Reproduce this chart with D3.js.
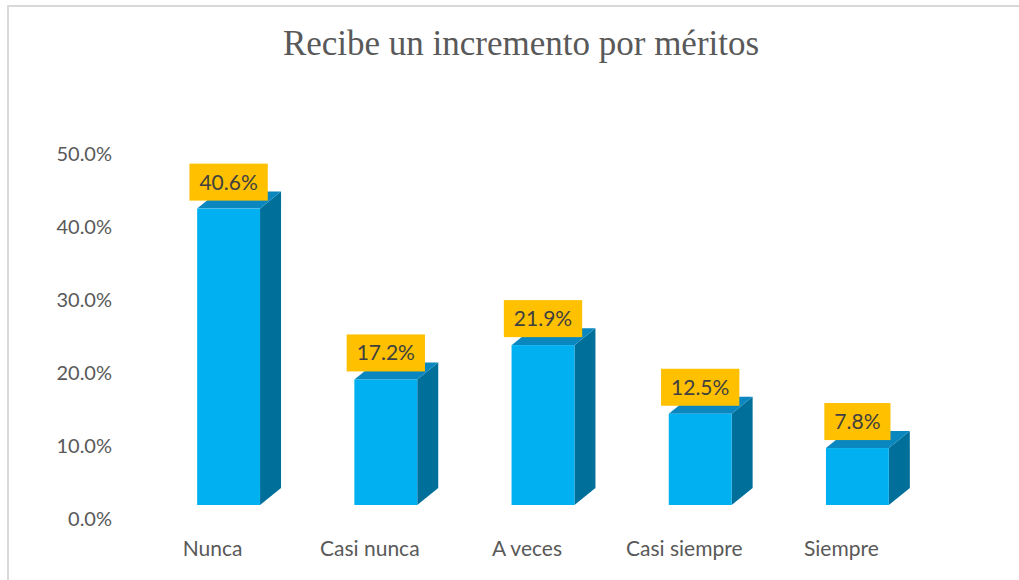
<!doctype html>
<html>
<head>
<meta charset="utf-8">
<title>Recibe un incremento por méritos</title>
<style>
  body { margin:0; background:#fff; }
  svg { display:block; }
  .title { font-family:"Liberation Serif","Times New Roman",serif; font-size:35px; fill:#595959; }
  .axis text { font-family:Lato,"Open Sans",sans-serif; font-size:20px; fill:#595959; }
  .xaxis text { font-size:21px; }
  .lbl { font-family:Lato,"Open Sans",sans-serif; font-size:21px; fill:#404040; }
</style>
<script src="https://cdn.jsdelivr.net/npm/d3@7"></script>
</head>
<body>
<svg id="chart" width="1019" height="580"></svg>
<script>
// datos
var categories = ["Nunca", "Casi nunca", "A veces", "Casi siempre", "Siempre"]
var values = [40.6, 17.2, 21.9, 12.5, 7.8]
var yTicks = [0, 10, 20, 30, 40, 50]

var svg = d3.select("#chart")

// marco del grafico
svg.append("path")
  .attr("d", "M8,580 L8,6 L1019,6")
  .style("fill", "none").style("stroke", "#d9d9d9").style("stroke-width", 2)

svg.append("text").attr("class", "title")
  .attr("x", 521).attr("y", 55)
  .attr("text-anchor", "middle")
  .text("Recibe un incremento por méritos")

// escalas
var x = d3.scaleBand().domain(categories).range([150, 936]).paddingInner(0.6).paddingOuter(0.3)
var yAxisScale = d3.scaleLinear().domain([0, 50]).range([518, 153])
var y = d3.scaleLinear().domain([0, 50]).range([505, 140])   // cara frontal
var dx = 21, dy = 17

// eje y
var gy = svg.append("g").attr("class", "axis")
  .attr("transform", "translate(112,0)")
  .call(d3.axisLeft(yAxisScale).tickValues(yTicks).tickSize(0).tickPadding(0)
    .tickFormat(function(d) { return d.toFixed(1) + "%" }))
gy.select(".domain").remove()
gy.selectAll("text").attr("dy", "0.35em")

// eje x
var gx = svg.append("g").attr("class", "axis xaxis")
  .attr("transform", "translate(-16,541)")
  .call(d3.axisBottom(x).tickSize(0).tickPadding(0))
gx.select(".domain").remove()
gx.selectAll("text").attr("dy", "0.35em").attr("y", 8)

// barras 3D
var bars = svg.selectAll(".bar").data(values).enter().append("g").attr("class", "bar")

bars.append("path")   // lado
  .attr("d", function(d, i) {
    var x1 = x(categories[i]) + x.bandwidth()
    return "M" + x1 + "," + y(d) + " L" + (x1 + dx) + "," + (y(d) - dy) +
      " L" + (x1 + dx) + "," + (y(0) - dy) + " L" + x1 + "," + y(0) + "Z"
  })
  .style("fill", "#006f9a")

bars.append("path")   // tapa
  .attr("d", function(d, i) {
    var x0 = x(categories[i]), x1 = x0 + x.bandwidth()
    return "M" + x0 + "," + y(d) + " L" + (x0 + dx) + "," + (y(d) - dy) +
      " L" + (x1 + dx) + "," + (y(d) - dy) + " L" + x1 + "," + y(d) + "Z"
  })
  .style("fill", "#0a87bf")

bars.append("rect")   // frente
  .attr("x", function(d, i) { return x(categories[i]) })
  .attr("y", function(d) { return y(d) })
  .attr("width", x.bandwidth())
  .attr("height", function(d) { return y(0) - y(d) })
  .style("fill", "#00b0f0")

// etiquetas de datos
var labels = svg.selectAll(".dl").data(values).enter().append("g").attr("class", "dl")
labels.each(function(d, i) {
  var g = d3.select(this)
  var cx = x(categories[i]) + x.bandwidth() / 2
  var bottom = y(d) - 8
  var r = g.append("rect").style("fill", "#ffc000")
  var t = g.append("text").attr("class", "lbl")
    .attr("x", cx).attr("y", bottom - 11)
    .attr("text-anchor", "middle")
    .text(d.toFixed(1) + "%")
  var w = t.node().getComputedTextLength() + 20
  r.attr("x", cx - w / 2).attr("y", bottom - 37).attr("width", w).attr("height", 37)
})
</script>
</body>
</html>
